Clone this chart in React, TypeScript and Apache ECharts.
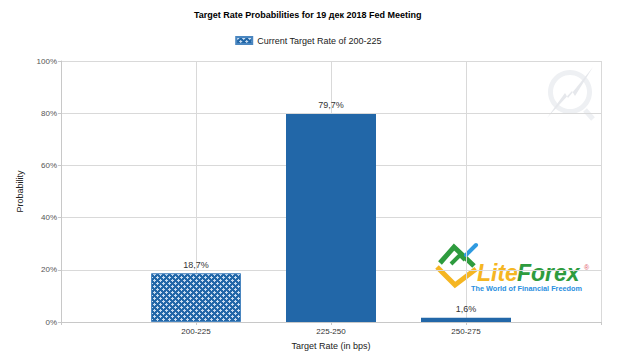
import React, { useEffect, useRef } from "react";
import * as echarts from "echarts";

const categories = ["200-225", "225-250", "250-275"];
const probabilities = [18.7, 79.7, 1.6];
const yTicks = [0, 20, 40, 60, 80, 100];
const titleText = "Target Rate Probabilities for 19 дек 2018 Fed Meeting";
const legendName = "Current Target Rate of 200-225";

const BLUE = "#2267a8";

function makePattern(): HTMLCanvasElement {
  const c = document.createElement("canvas");
  c.width = 6;
  c.height = 6;
  const ctx = c.getContext("2d")!;
  ctx.fillStyle = BLUE;
  ctx.fillRect(0, 0, 6, 6);
  ctx.fillStyle = "#c9dcf0";
  // light diamonds
  const pts = [[1, 0], [0, 1], [1, 1], [2, 1], [1, 2], [4, 3], [3, 4], [4, 4], [5, 4], [4, 5]];
  pts.forEach(([x, y]) => ctx.fillRect(x, y, 1, 1));
  return c;
}

export default function App() {
  const ref = useRef<HTMLDivElement>(null);
  useEffect(() => {
    document.body.style.margin = "0";
    const chart = echarts.init(ref.current!, null, { renderer: "svg" });
    const pattern = { image: makePattern(), repeat: "repeat", imageWidth: 6, imageHeight: 6 };
    const axisCats = ["", ...categories, ""];
    const data: any[] = ["-"];
    probabilities.forEach((v, i) => {
      if (i === 0) data.push({ value: v });
      else data.push({ value: v, itemStyle: { color: BLUE, borderWidth: 0 } });
    });
    data.push("-");
    const font = "Arial, 'Liberation Sans', sans-serif";
    chart.setOption({
      animation: false,
      textStyle: { fontFamily: font },
      title: {
        text: titleText,
        left: 189,
        top: 5,
        textStyle: { fontSize: 9, fontWeight: "bold", color: "#000", fontFamily: font },
      },
      legend: {
        data: [legendName],
        top: 31,
        left: "center",
        itemWidth: 16,
        itemHeight: 7,
        itemGap: 4,
        icon: "rect",
        textStyle: { fontSize: 9, color: "#222", fontFamily: font },
      },
      grid: { left: 61, right: 16, top: 61, bottom: 36 },
      xAxis: {
        type: "category",
        data: axisCats,
        boundaryGap: false,
        name: "Target Rate (in bps)",
        nameLocation: "middle",
        nameGap: 19,
        nameTextStyle: { fontSize: 9, color: "#222" },
        axisLine: { lineStyle: { color: "#c8c8c8" } },
        axisTick: { show: true, length: 3, lineStyle: { color: "#c8c8c8" } },
        axisLabel: { fontSize: 8, color: "#333", margin: 5, interval: 0 },
        splitLine: { show: true, lineStyle: { color: "#d9d9d9" } },
      },
      yAxis: {
        type: "value",
        min: 0,
        max: 100,
        interval: 20,
        name: "Probability",
        nameLocation: "middle",
        nameGap: 37,
        nameTextStyle: { fontSize: 9, color: "#222" },
        axisLine: { show: true, lineStyle: { color: "#c8c8c8" } },
        axisTick: { show: true, length: 3, lineStyle: { color: "#c8c8c8" } },
        axisLabel: {
          fontSize: 8,
          color: "#555",
          margin: 4,
          formatter: (v: number) => (yTicks.includes(v) ? v + "%" : ""),
        },
        splitLine: { show: true, lineStyle: { color: "#d9d9d9" } },
      },
      series: [
        {
          name: legendName,
          type: "bar",
          barWidth: 90,
          data,
          itemStyle: { color: pattern, borderColor: "#4a86c0", borderWidth: 1 },
          label: {
            show: true,
            position: "top",
            distance: 4,
            fontSize: 9,
            color: "#333",
            formatter: (p: any) => String(p.value).replace(".", ",") + "%",
          },
        },
      ],
      graphic: [
        // Q watermark
        {
          type: "ring",
          shape: { cx: 570, cy: 92, r: 22, r0: 17 },
          style: { fill: "#eef0f3" },
          silent: true,
        },
        {
          type: "polyline",
          shape: { points: [[585, 110], [593, 119]] },
          style: { stroke: "#eef0f3", lineWidth: 5 },
          silent: true,
        },
        {
          type: "polygon",
          shape: { points: [[547, 118], [565, 93], [568, 98], [593, 67], [575, 96], [572, 91]] },
          style: { fill: "#e6e8ec" },
          silent: true,
        },
        // LiteForex logo icon
        {
          type: "polyline",
          shape: { points: [[437, 267], [455, 285], [476, 269]] },
          style: { stroke: "#f5b622", lineWidth: 5, lineJoin: "miter" },
          silent: true,
        },
        {
          type: "polyline",
          shape: { points: [[440, 263], [454, 247], [474, 266]] },
          style: { stroke: "#2e9b3e", lineWidth: 5, lineJoin: "miter" },
          silent: true,
        },
        {
          type: "polyline",
          shape: { points: [[451, 264], [460, 255], [465, 260]] },
          style: { stroke: "#2e9b3e", lineWidth: 4, lineJoin: "miter" },
          silent: true,
        },
        {
          type: "line",
          shape: { x1: 466, y1: 255, x2: 476, y2: 245 },
          style: { stroke: "#2f9ae0", lineWidth: 4, lineCap: "round" },
          silent: true,
        },
        {
          type: "text",
          x: 477,
          y: 284,
          style: {
            text: "Lite",
            fill: "#f5b622",
            font: "italic bold 23px Arial, 'Liberation Sans', sans-serif",
            textVerticalAlign: "bottom",
          },
          silent: true,
        },
        {
          type: "text",
          x: 517,
          y: 284,
          style: {
            text: "Forex",
            fill: "#2e9b3e",
            font: "italic bold 23px Arial, 'Liberation Sans', sans-serif",
            textVerticalAlign: "bottom",
          },
          silent: true,
        },
        {
          type: "text",
          x: 584,
          y: 264,
          style: { text: "®", fill: "#e05a6a", font: "7px Arial, sans-serif" },
          silent: true,
        },
        {
          type: "text",
          x: 471,
          y: 285,
          style: {
            text: "The World of Financial Freedom",
            fill: "#2a8fe0",
            font: "bold 7.3px Arial, 'Liberation Sans', sans-serif",
          },
          silent: true,
        },
      ],
    });
    return () => chart.dispose();
  }, []);
  return <div ref={ref} style={{ width: 617, height: 358 }} />;
}
